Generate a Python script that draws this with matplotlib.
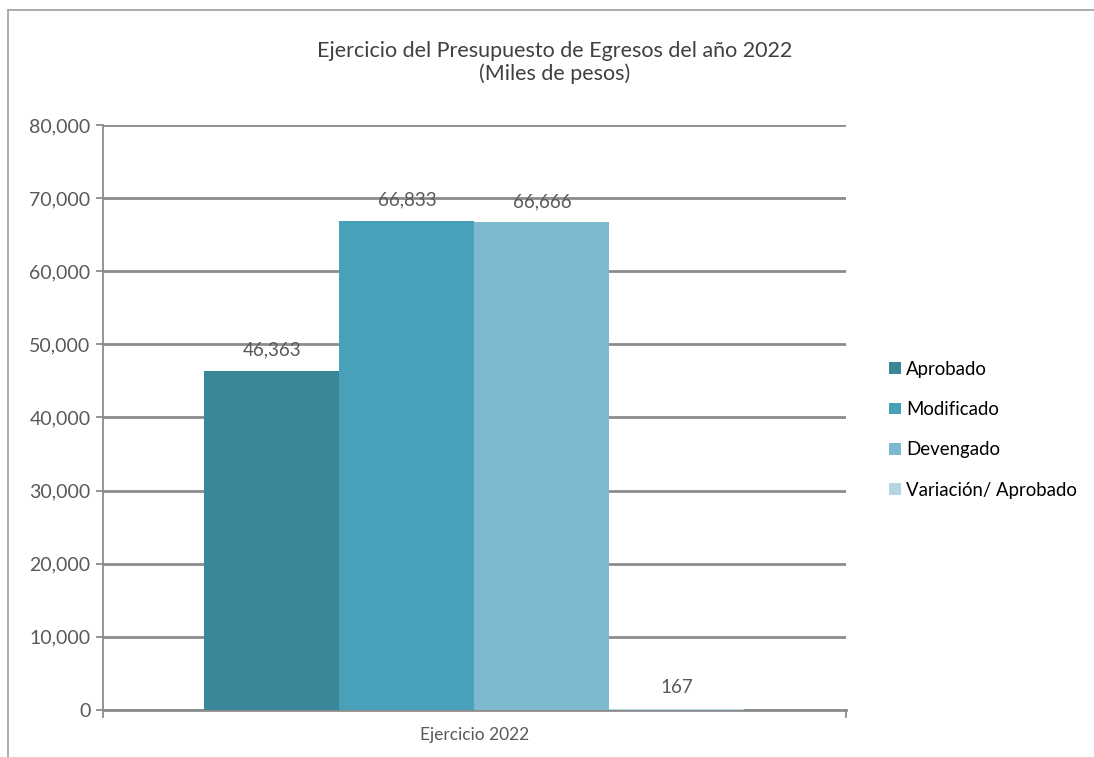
import matplotlib.pyplot as plt
from matplotlib.lines import Line2D

categoria = ["Ejercicio 2022"]
series = ["Aprobado", "Modificado", "Devengado", "Variación/ Aprobado"]
valores = [46363, 66833, 66666, 167]
colores = ["#3A8799", "#48A1B9", "#7DB9CE", "#B4D6E2"]

plt.rcParams['font.family'] = ['Lato', 'DejaVu Sans']

fig = plt.figure(figsize=(10.94, 7.57), dpi=100)
ax = fig.add_axes([0.0941, 0.0621, 0.6792, 0.7728])

ancho = 0.1817
n = len(series)
for i, (s, v, c) in enumerate(zip(series, valores, colores)):
    x = (i - (n - 1) / 2) * ancho
    ax.bar(x, v, width=ancho, color=c, label=s, zorder=3)
    ax.text(x, v + 1700, f"{v:,}", ha="center", va="bottom",
            fontsize=13.5, color="#595959", zorder=4)

ax.set_xlim(-0.5, 0.5)
ax.set_ylim(0, 80000)
ax.set_yticks(range(0, 80001, 10000))
ax.set_yticklabels([f"{t:,}" for t in range(0, 80001, 10000)], fontsize=14, color="#595959")
ax.set_xticks([0])
ax.set_xticklabels(categoria, fontsize=12.5, color="#595959")
ax.tick_params(axis="x", length=0, pad=12)
ax.tick_params(axis="y", length=5, color="#8C8C8C", width=1.3, pad=4)
ax.grid(axis="y", color="#8C8C8C", linewidth=2, zorder=0)
for lado in ["top", "right"]:
    ax.spines[lado].set_visible(False)
ax.spines["left"].set_color("#8C8C8C")
ax.spines["left"].set_linewidth(1.3)
ax.spines["bottom"].set_color("#8C8C8C")
ax.spines["bottom"].set_linewidth(2)
# marcas de los extremos del eje x
for xe in (-0.5, 0.5):
    ax.plot([xe, xe], [0, -1000], color="#8C8C8C", lw=1.3, clip_on=False)

fig.text(0.507, 0.918, "Ejercicio del Presupuesto de Egresos del año 2022\n(Miles de pesos)",
         ha="center", va="center", fontsize=15.5, color="#404040", linespacing=1.15)

leg = ax.legend(loc="center left", bbox_to_anchor=(1.036, 0.479), frameon=False,
                fontsize=13.4, handlelength=0.6, handleheight=0.6, handletextpad=0.3,
                labelspacing=1.26)
for t in leg.get_texts():
    t.set_color("#000000")

# borde del área del gráfico
fig.add_artist(Line2D([8 / 1094, 1], [1 - 10 / 757] * 2, color="#A6A6A6", lw=1.3))
fig.add_artist(Line2D([8 / 1094] * 2, [0, 1 - 10 / 757], color="#A6A6A6", lw=1.3))

fig.savefig("out.png", dpi=100)
